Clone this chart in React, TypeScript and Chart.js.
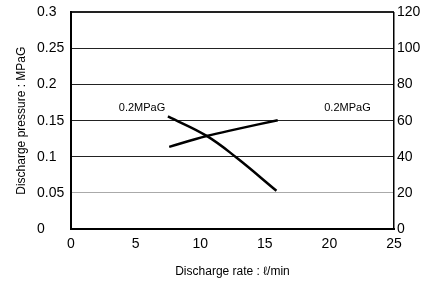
import React, { useEffect, useRef } from "react";
import { Chart, registerables } from "chart.js";

Chart.register(...registerables);

const xTickValues = [0, 5, 10, 15, 20, 25];
const pressureTickLabels = ["0", "0.05", "0.1", "0.15", "0.2", "0.25", "0.3"];
const rightTickLabels = ["0", "20", "40", "60", "80", "100", "120"];

// Falling curve (left axis, MPaG)
const fallingX = [7.5, 10.5, 12.8, 15.9];
const fallingY = [0.156, 0.129, 0.099, 0.053];

// Rising curve (right axis)
const risingX = [7.6, 10.5, 13.0, 16.0];
const risingY = [45.5, 51.5, 55.6, 60.3];

// Curve labels, in data units (left axis)
const labelTexts = ["0.2MPaG", "0.2MPaG"];
const labelX = [5.5, 21.4];
const labelY = [0.167, 0.167];

const FONT = "'Liberation Sans', Arial, sans-serif";

const labelPlugin = {
  id: "curveLabels",
  afterDatasetsDraw(chart: any) {
    const { ctx } = chart;
    const xs = chart.scales.x;
    const ys = chart.scales.y;
    ctx.save();
    ctx.font = `11px ${FONT}`;
    ctx.fillStyle = "#000";
    ctx.textAlign = "center";
    ctx.textBaseline = "middle";
    labelTexts.forEach((t, i) => {
      ctx.fillText(t, xs.getPixelForValue(labelX[i]), ys.getPixelForValue(labelY[i]));
    });
    ctx.restore();
  },
};

export default function App() {
  const ref = useRef<HTMLCanvasElement>(null);
  useEffect(() => {
    if (!ref.current) return;
    const chart = new Chart(ref.current, {
      type: "line",
      data: {
        datasets: [
          {
            data: fallingX.map((x, i) => ({ x, y: fallingY[i] })),
            borderColor: "#000",
            borderWidth: 2.5,
            pointRadius: 0,
            tension: 0.4,
            yAxisID: "y",
          },
          {
            data: risingX.map((x, i) => ({ x, y: risingY[i] })),
            borderColor: "#000",
            borderWidth: 2.5,
            pointRadius: 0,
            tension: 0.4,
            yAxisID: "y1",
          },
        ],
      },
      options: {
        animation: false,
        responsive: false,
        events: [],
        layout: { padding: { top: 10, left: 0, right: 0, bottom: 0 } },
        plugins: { legend: { display: false }, tooltip: { enabled: false } },
        scales: {
          x: {
            type: "linear",
            min: 0,
            max: 25,
            afterBuildTicks: (s: any) => {
              s.ticks = xTickValues.map((v) => ({ value: v }));
            },
            grid: { display: false, drawTicks: false },
            border: { display: true, color: "#000", width: 2 },
            ticks: { color: "#000", padding: 7, font: { size: 14, family: FONT } },
            title: {
              display: true,
              text: "Discharge rate : ℓ/min",
              color: "#000",
              font: { size: 12, family: FONT },
              padding: { top: 0, bottom: 9 },
            },
            afterFit: (s: any) => {
              s.height = 59;
            },
          },
          y: {
            type: "linear",
            position: "left",
            weight: 0,
            min: 0,
            max: 0.3,
            ticks: {
              stepSize: 0.05,
              crossAlign: "far",
              color: "#000",
              padding: 4,
              font: { size: 14, family: FONT },
              callback: (_v: any, i: number) => pressureTickLabels[i],
            },
            grid: {
              drawTicks: false,
              color: (c: any) => (c.index === 1 ? "#aaa" : "#222"),
              lineWidth: (c: any) => (c.index === 6 ? 2 : 1),
            },
            border: { display: true, color: "#000", width: 2 },
            afterFit: (s: any) => {
              s.width = 34;
            },
          },
          yTitle: {
            type: "linear",
            position: "left",
            weight: 5,
            min: 0,
            max: 1,
            ticks: { display: false },
            grid: { display: false, drawTicks: false },
            border: { display: false },
            title: {
              display: true,
              text: "Discharge pressure : MPaG",
              color: "#000",
              font: { size: 12, family: FONT },
              padding: { top: 14, bottom: 0 },
            },
            afterFit: (s: any) => {
              s.width = 37;
            },
          },
          y1: {
            type: "linear",
            position: "right",
            min: 0,
            max: 120,
            ticks: {
              stepSize: 20,
              color: "#000",
              padding: 3,
              font: { size: 14, family: FONT },
              callback: (_v: any, i: number) => rightTickLabels[i],
            },
            grid: { display: false, drawTicks: false },
            border: { display: true, color: "#000", width: 1.5 },
            afterFit: (s: any) => {
              s.width = 27;
            },
          },
        },
      } as any,
      plugins: [labelPlugin],
    });
    return () => chart.destroy();
  }, []);
  return (
    <div style={{ position: "fixed", left: 0, top: 0, width: 421, height: 288, background: "#fff" }}>
      <canvas ref={ref} width={421} height={288} />
    </div>
  );
}
